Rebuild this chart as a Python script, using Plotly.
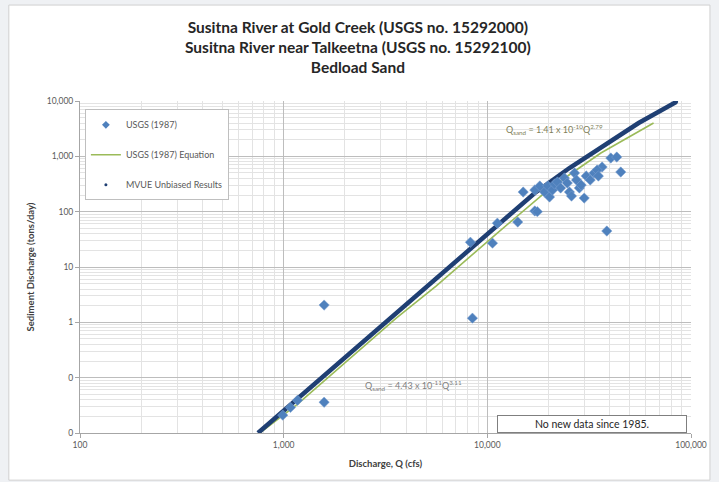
import plotly.graph_objects as go

# ---- data ----
usgs_q = [1580, 1580, 990, 1080, 1170, 8450, 8260, 10600, 11200, 14100, 15000, 17100, 17600,
          38600, 36600, 40400, 43200, 45200,
          17100, 18100, 19100, 19800, 20200, 20900, 21400, 22100, 22900, 23900, 24700, 25300,
          25900, 26800, 27400, 28300, 28900, 29900, 30600, 32000, 33400, 34600, 35100]
usgs_qs = [2.05, 0.036, 0.021, 0.029, 0.039, 1.19, 28, 27, 62, 65, 226, 103, 100,
           44.6, 641, 931, 970, 520,
           246, 291, 226, 291, 184, 246, 316, 343, 268, 405, 329, 226,
           191, 499, 373, 268, 303, 176, 440, 373, 499, 565, 440]

eq_q = [764, 1170, 3570, 5600, 10900, 20700, 36100, 65500]
eq_qs = [0.01, 0.0332, 1.19, 4.52, 37.8, 279, 1148, 4000]

mvue_q = [748, 1637, 3570, 7820, 17100, 25300, 36100, 55300, 84500]
mvue_qs = [0.01, 0.120, 1.47, 17.8, 217, 614, 1470, 4000, 9590]

title_lines = ["Susitna River at Gold Creek (USGS no. 15292000)",
               "Susitna River near Talkeetna (USGS no. 15292100)",
               "Bedload Sand"]

FONT = "Lato"
NAVY = "#1F3F73"
BLUE = "#4F81BD"

fig = go.Figure()

fig.add_trace(go.Scatter(
    x=eq_q, y=eq_qs, mode="lines", name="USGS (1987) Equation",
    line=dict(color="#9BBB59", width=1.6), legendrank=2, legendgroup="b"))

fig.add_trace(go.Scatter(
    x=mvue_q, y=mvue_qs, mode="lines", name="MVUE Unbiased Results",
    line=dict(color=NAVY, width=4.5), showlegend=False))

fig.add_trace(go.Scatter(
    x=[mvue_q[-1]], y=[mvue_qs[-1]], mode="markers", showlegend=False,
    marker=dict(symbol="circle", size=4, color=NAVY)))

fig.add_trace(go.Scatter(
    x=usgs_q, y=usgs_qs, mode="markers", name="USGS (1987)", showlegend=False,
    marker=dict(symbol="diamond", size=8, color=BLUE,
                line=dict(color="#7FA3D3", width=0.5))))

# legend-only entries
fig.add_trace(go.Scatter(
    x=[None], y=[None], mode="markers", name="USGS (1987)",
    marker=dict(symbol="diamond", size=6, color=BLUE), legendrank=1, legendgroup="a"))
fig.add_trace(go.Scatter(
    x=[None], y=[None], mode="markers", name="MVUE Unbiased Results",
    marker=dict(symbol="circle", size=3, color=NAVY), legendrank=3, legendgroup="c"))

axis_common = dict(
    type="log", dtick=1, tickformat=",.0f",
    tickfont=dict(family=FONT, size=8.5, color="#595959"),
    showgrid=True, gridcolor="#BDBDBD", gridwidth=1,
    minor=dict(showgrid=True, dtick="D1", gridcolor="#E3E3E3", gridwidth=1),
    showline=True, linecolor="#A6A6A6", linewidth=1,
    ticks="outside", ticklen=4, tickcolor="#A6A6A6",
    zeroline=False,
)

fig.update_layout(
    width=719, height=482,
    margin=dict(l=80, r=21, t=101, b=49),
    paper_bgcolor="#EFF1F4", plot_bgcolor="white",
    font=dict(family=FONT, color="#404040"),
    xaxis=dict(axis_common, range=[2, 5],
               title=dict(text="<b>Discharge, Q (cfs)</b>", standoff=11,
                          font=dict(family=FONT, size=9.5, color="#404040"))),
    yaxis=dict(axis_common, range=[-2, 4],
               title=dict(text="<b>Sediment Discharge (tons/day)</b>", standoff=10,
                          font=dict(family=FONT, size=9.5, color="#404040"))),
    legend=dict(x=0.008, y=0.975, xanchor="left", yanchor="top",
                bgcolor="white", bordercolor="#BFBFBF", borderwidth=1,
                font=dict(family=FONT, size=9, color="#595959"),
                tracegroupgap=11, itemwidth=30),
    showlegend=True,
)

fig.add_shape(type="rect", xref="paper", yref="paper",
              x0=-0.1165, x1=1.031, y0=-0.142, y1=1.289,
              line=dict(color="#D0D0D0", width=1), fillcolor="white", layer="below")

fig.add_annotation(x=0.455, y=1.1627, xref="paper", yref="paper", xanchor="center",
                   yanchor="middle", text="<b>" + "<br>".join(title_lines) + "</b>",
                   showarrow=False, font=dict(family=FONT, size=15.5, color="#262626"))

fig.add_annotation(x=0.838, y=0.027, xref="paper", yref="paper",
                   xanchor="center", yanchor="middle",
                   text="No new data since 1985.", showarrow=False,
                   font=dict(family=FONT, size=10.5, color="#262626"),
                   bgcolor="white", bordercolor="#7F7F7F", borderwidth=1,
                   width=186, height=14)

fig.add_annotation(x=4.33, y=3.48, xref="x", yref="y",
                   text="Q<sub>sand</sub> = 1.41 x 10<sup>-10</sup>Q<sup>2.79</sup>",
                   showarrow=False, font=dict(family=FONT, size=9, color="#7F7F5A"))

fig.add_annotation(x=3.636, y=-1.136, xref="x", yref="y",
                   text="Q<sub>sand</sub> = 4.43 x 10<sup>-11</sup>Q<sup>3.11</sup>",
                   showarrow=False, font=dict(family=FONT, size=9, color="#7F7F7F"))

fig.write_html("out.html")
